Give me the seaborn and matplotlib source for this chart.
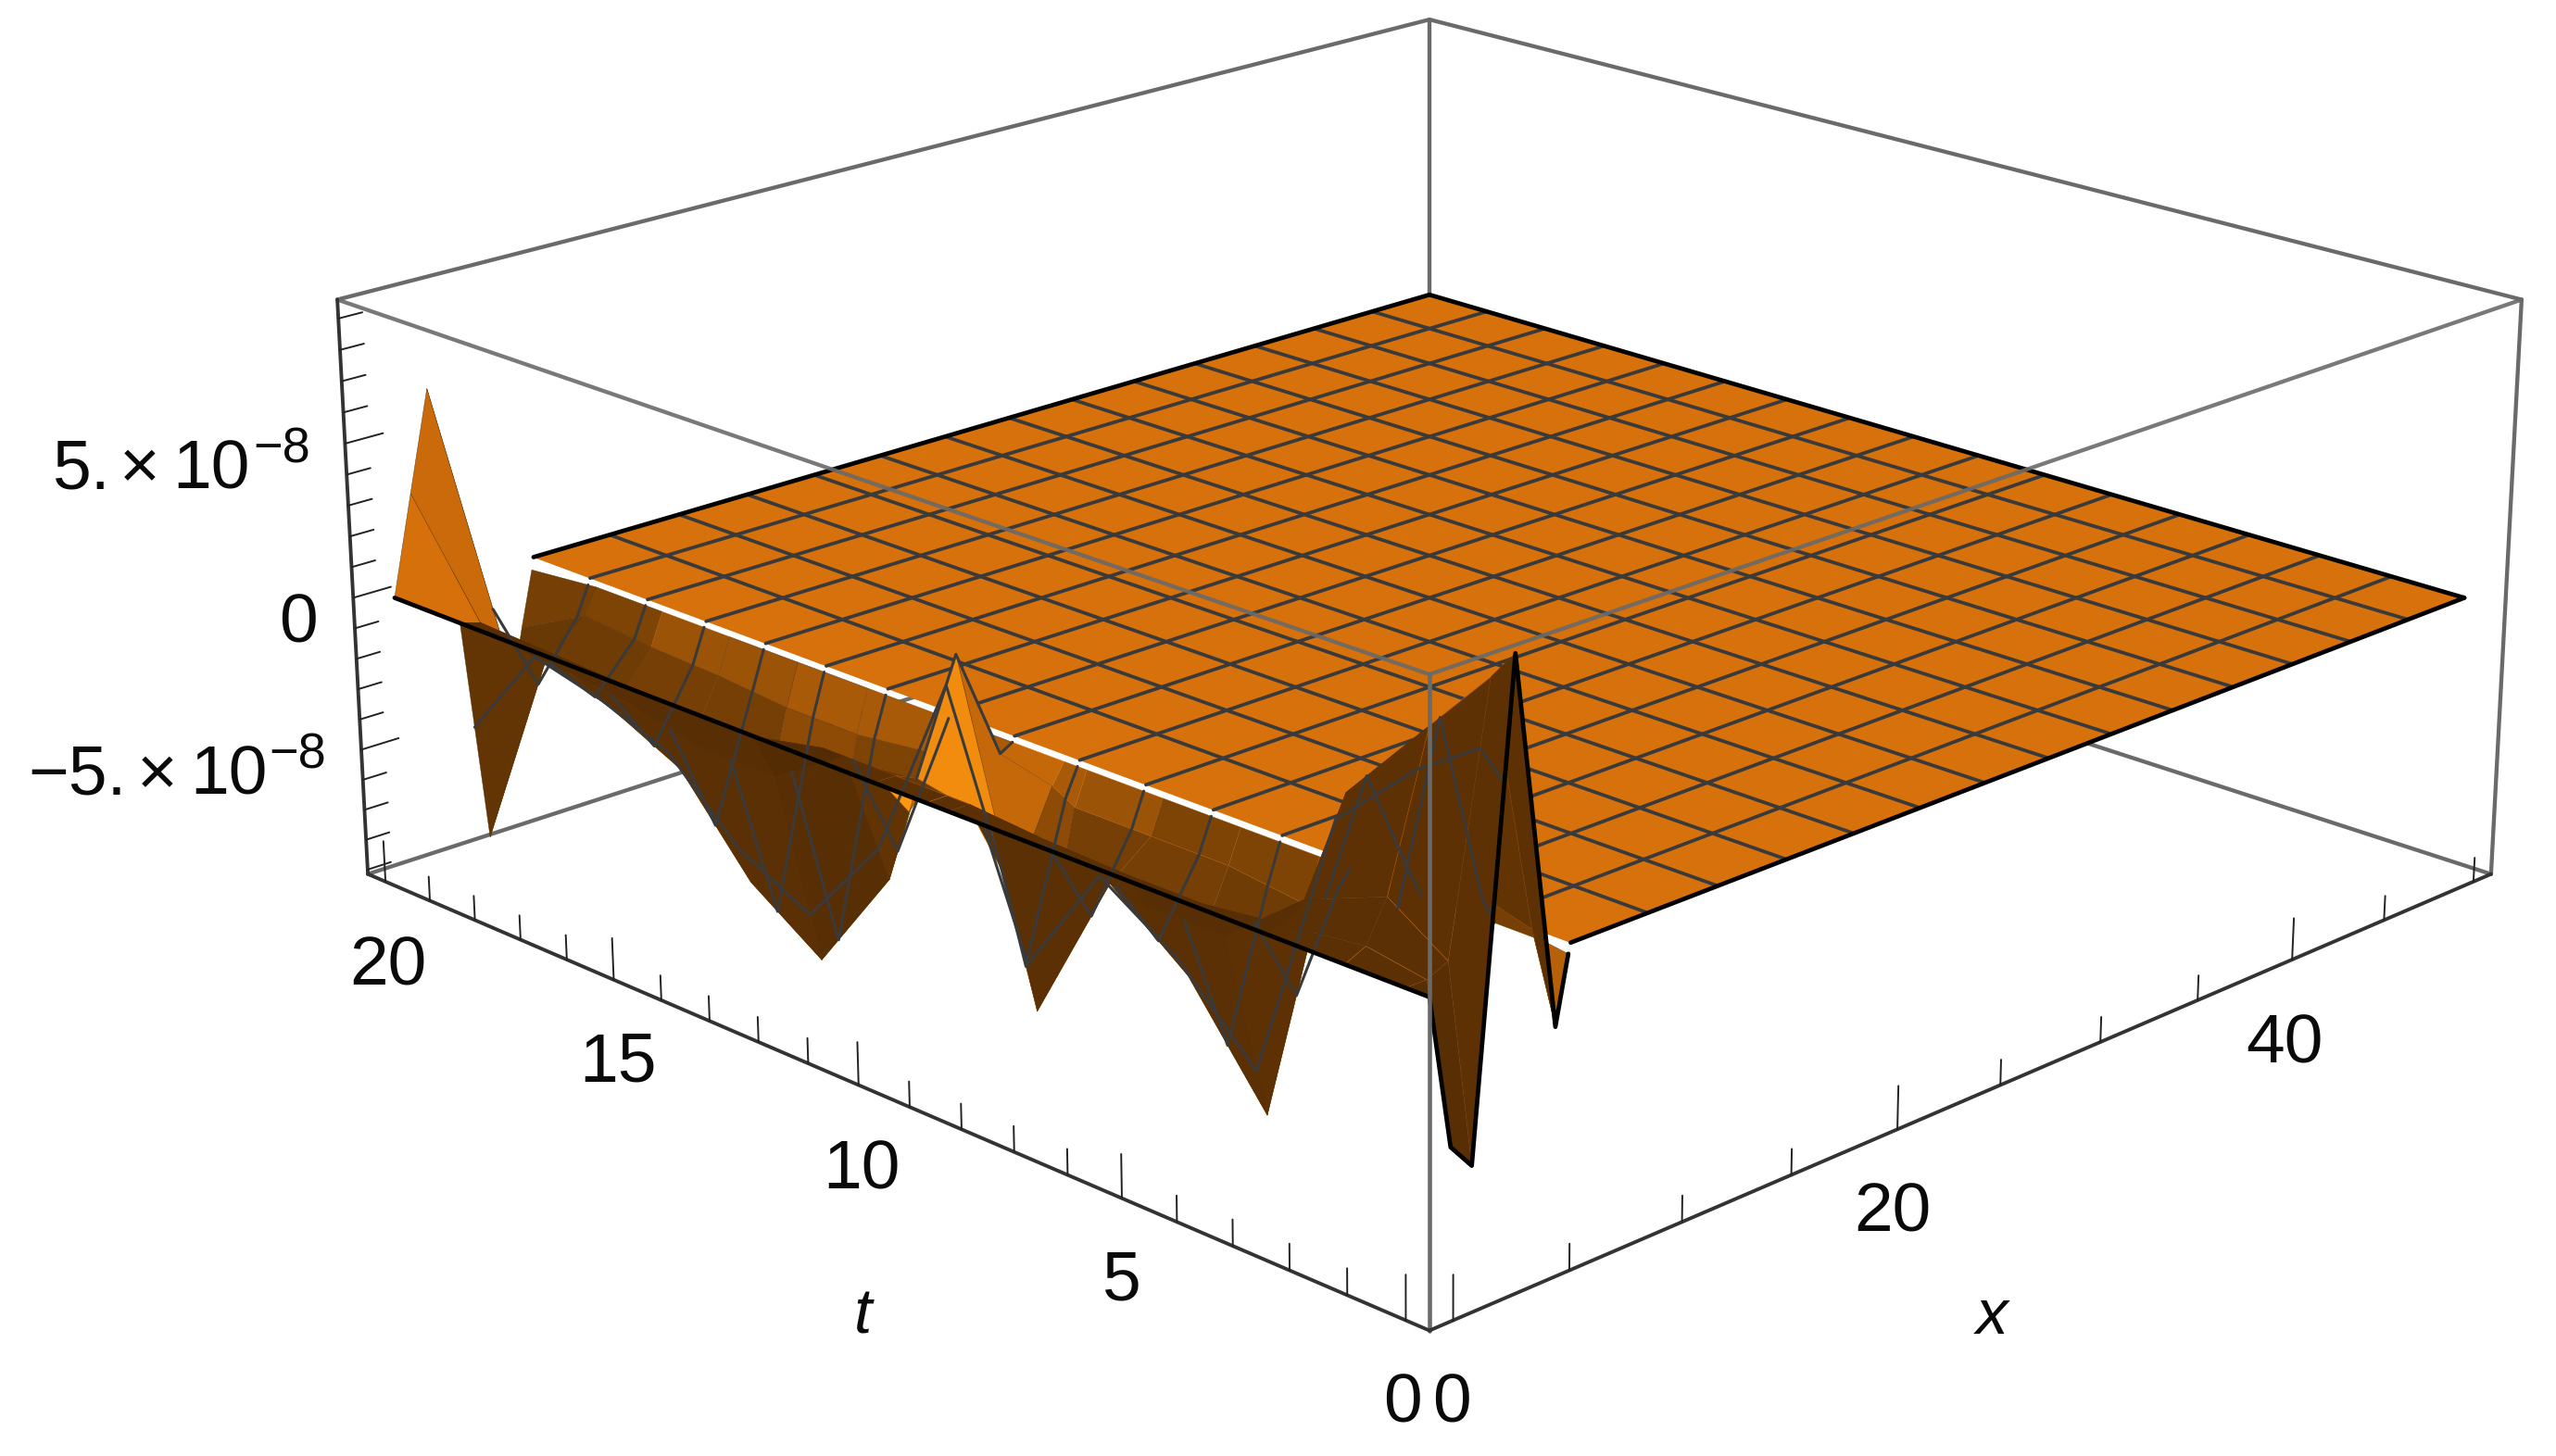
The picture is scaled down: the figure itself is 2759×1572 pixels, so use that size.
import numpy as np
import matplotlib
matplotlib.use("Agg")
import matplotlib.pyplot as plt
import seaborn as sns

# ---- data -------------------------------------------------------------
X_NODES = [0, 0.89, 1.79, 3.57, 5.36, 5.9]
T_NODES = [0, 0.4, 1.43, 2.86, 4.29, 5.71, 7.14, 8.57, 9.0, 10, 11.0, 11.43, 12.86, 14.29, 15.71, 17.14, 18.57, 20]
# surface height (units of 1e-8), rows = T_NODES, columns = X_NODES
Z_A = [0, -4.6, -5.4, 8.9, -2.3, -0.3]
Z_B = [0, 0.0, 0.3, 8.0, 0.3, -0.2]
Z_C = [0, 0.3, 1.5, 6.0, 0.8, -0.2]
Z_D = [0, 0.0, 0.5, 3.2, 0.6, -0.2]
Z_E = [0, -0.3, -1.5, -7.4, -1.5, -0.17]
Z_F = [0, -0.3, -1.5, -4.1, -1.2, -0.17]
Z_G = [0, -0.2, -0.8, -2.2, -1.2, -0.17]
Z_H = [0, 0.0, -1.0, -7.1, -1.2, -0.17]
Z_I = [0, 0.0, -0.6, -3.6, -0.8, -0.17]
Z_J = [0, 0.0, -0.3, 3.1, -0.4, -0.17]
Z_K = [0, 0.0, -0.5, -2.4, -0.8, -0.17]
Z_L = [0, 0.0, -0.5, -4.8, -1.2, -0.17]
Z_M = [0, -0.5, -2.0, -8.3, -1.5, -0.17]
Z_N = [0, -0.5, -2.0, -6.7, -1.5, -0.17]
Z_O = [0, -0.4, -1.5, -3.9, -1.3, -0.17]
Z_P = [0, -0.3, -1.2, -2.8, -1.2, -0.17]
Z_Q = [0, -0.2, -1.0, -2.1, -1.0, -0.17]
Z_R = [0, 3.2, 6.4, -8.8, -2.2, -0.4]
# brightness of each facet (0 dark brown ... 1 bright orange), one row per t interval
SHADE = [
    [.08, .08, .12, .12, .55],
    [.10, .10, .12, .15, .30],
    [.10, .10, .12, .15, .30],
    [.08, .08, .12, .20, .30],
    [.08, .08, .10, .25, .35],
    [.10, .10, .10, .30, .35],
    [.10, .10, .10, .30, .45],
    [.10, .10, .12, .40, .50],
    [.10, .20, .88, .60, .60],
    [.10, .20, .97, .60, .50],
    [.05, .10, .15, .40, .50],
    [.05, .05, .08, .35, .50],
    [.08, .08, .10, .40, .50],
    [.08, .08, .10, .30, .45],
    [.08, .08, .10, .30, .45],
    [.08, .08, .10, .25, .35],
    [.66, .62, .16, .20, .30],
]
PLATE_X = [6.0, 50]
PLATE_T = [0, 20]
MESH_X = [9.375, 12.5, 15.625, 18.75, 21.875, 25, 28.125, 31.25, 34.375, 37.5, 40.625, 43.75, 46.875]
MESH_T = [1.25, 2.5, 3.75, 5, 6.25, 7.5, 8.75, 10, 11.25, 12.5, 13.75, 15, 16.25, 17.5, 18.75]
STRIP_MESH_X = 3.125
XLIM = (-1, 51)
TLIM = (-0.4, 20.4)
ZLIM = (-9.15, 9.6)
X_TICKS = [0, 5, 10, 15, 20, 25, 30, 35, 40, 45, 50]
X_MAJOR = [0, 20, 40]
T_TICKS = list(range(0, 21))
T_MAJOR = [0, 5, 10, 15, 20]
Z_TICKS = list(range(-9, 10))
Z_MAJOR = [-5, 0, 5]

# ---- style ------------------------------------------------------------
W, H = 2759, 1572
sns.set_theme(style="white")
plt.rcParams["font.family"] = ["Liberation Sans", "DejaVu Sans"]
fig = plt.figure(figsize=(W / 100, H / 100), dpi=100, facecolor="white")
S = 2800.0
cx, cy = 1543.0, 934.0
frac = 0.095 / 0.185
ax = fig.add_axes([(cx - frac * S) / W, (cy - frac * S) / H, S / W, S / H],
                  projection="3d", computed_zorder=False)
f_len = 1423.0 / S
ax.set_proj_type("persp", focal_length=f_len)
ax.set_box_aspect((1, 1, 0.4), zoom=(10 * f_len / 4.68) / 1.2967)
ax.view_init(elev=19.4, azim=-135)
ax.set_xlim(*XLIM)
ax.set_ylim(*TLIM)
ax.set_zlim(*ZLIM)
ax.set_axis_off()
ax.patch.set_alpha(0)

cmap = sns.blend_palette(["#4E2804", "#7A4205", "#D7710B", "#FF9A10"], 256, as_cmap=True)
PLATE = "#D7710B"
MESH = "#3A3A3A"
BOX = "#6A6A6A"
AXC = "#333333"

def line(xs, ts, zs, color, lw, z, **kw):
    l, = ax.plot(xs, ts, zs, color=color, lw=lw, zorder=z, clip_on=False,
                 solid_capstyle="round", **kw)
    return l

x0, x1 = XLIM
t0, t1 = TLIM
z0, z1 = ZLIM

# back box edges (behind the surface)
line([x0, x1], [t1, t1], [z0, z0], BOX, 3.1, 1)
line([x1, x1], [t0, t1], [z0, z0], BOX, 3.1, 1)
line([x1, x1], [t1, t1], [z0, z1], BOX, 3.1, 1)
line([x0, x1], [t1, t1], [z1, z1], BOX, 3.1, 1)
line([x1, x1], [t0, t1], [z1, z1], BOX, 3.1, 1)
line([x1, x1], [t0, t0], [z0, z1], BOX, 3.1, 1)

# flat plate
Px, Pt = np.meshgrid(PLATE_X, PLATE_T)
plate = ax.plot_surface(Px, Pt, np.zeros_like(Px, dtype=float), color=PLATE, shade=False,
                        linewidth=0, antialiased=True, zorder=2)
plate.set_clip_on(False)
for mx in MESH_X:
    line([mx, mx], PLATE_T, [0, 0], MESH, 2.7, 3)
for mt in MESH_T:
    line(PLATE_X, [mt, mt], [0, 0], MESH, 2.7, 3)
line([PLATE_X[0], PLATE_X[1]], [20, 20], [0, 0], "black", 3.4, 3.5)
line([PLATE_X[1], PLATE_X[1]], [0, 20], [0, 0], "black", 3.4, 3.5)
line([PLATE_X[0], PLATE_X[1]], [0, 0], [0, 0], "black", 3.4, 3.5)

# rough strip near x = 0
Z_ROWS = [Z_A, Z_B, Z_C, Z_D, Z_E, Z_F, Z_G, Z_H, Z_I, Z_J, Z_K, Z_L, Z_M, Z_N, Z_O, Z_P, Z_Q, Z_R]
Z = np.array(Z_ROWS, dtype=float)
Xg, Tg = np.meshgrid(X_NODES, T_NODES)
strip = ax.plot_surface(Xg, Tg, Z, rstride=1, cstride=1, facecolors=cmap(np.array(SHADE)),
                        shade=False, linewidth=0.3, antialiased=True, zorder=4)
strip.set_edgecolor("face")
strip.set_clip_on(False)

# strip mesh lines
for mt in MESH_T:
    zs = [np.interp(mt, T_NODES, Z[:, j]) for j in range(2, len(X_NODES))]
    line(X_NODES[2:], [mt] * (len(X_NODES) - 2), zs, MESH, 2.2, 5)
z_mx = [np.interp(STRIP_MESH_X, X_NODES, Z[i, :]) for i in range(len(T_NODES))]
line([STRIP_MESH_X] * len(T_NODES), T_NODES, z_mx, MESH, 2.2, 5)

# strip outline
line(X_NODES, [0] * 6, Z[0], "black", 3.4, 6)
line([0, 0], [0, 20], [0, 0], "black", 3.4, 6)

# front box edges and ticks
line([x0, x1], [t0, t0], [z1, z1], BOX, 3.1, 7, alpha=0.9)
line([x0, x0], [t0, t1], [z1, z1], BOX, 3.1, 7, alpha=0.9)
line([x0, x0], [t0, t0], [z0, z1], BOX, 3.3, 7)
line([x0, x1], [t0, t0], [z0, z0], AXC, 2.8, 7)
line([x0, x0], [t0, t1], [z0, z0], AXC, 2.8, 7)
line([x0, x0], [t1, t1], [z0, z1], AXC, 2.8, 7)
for t in T_TICKS:
    ln = 1.35 if t in T_MAJOR else 0.8
    line([x0, x0], [t, t], [z0, z0 + ln], "#222222", 1.4, 7)
for x in X_TICKS:
    ln = 1.35 if x in X_MAJOR else 0.8
    line([x, x], [t0, t0], [z0, z0 + ln], "#222222", 1.4, 7)
for zt in Z_TICKS:
    ln = 1.6 if zt in Z_MAJOR else 1.0
    line([x0, x0 + ln], [t1, t1], [zt, zt], "#222222", 1.4, 7)

# text
FS = 54
def txt(px, py, s, ha="center", fs=FS, **kw):
    fig.text(px / W, 1 - py / H, s, ha=ha, va="baseline", fontsize=fs, color="#0A0A0A", **kw)

txt(57, 527, "5.", ha="left")
txt(151, 527, "×")
txt(186, 527, "10", ha="left")
txt(273, 499, "−8", ha="left", fs=39)
txt(322, 693, "0")
txt(30, 858, "−5.", ha="left")
txt(170, 858, "×")
txt(205, 858, "10", ha="left")
txt(290, 829, "−8", ha="left", fs=39)
txt(419, 1063, "20")
txt(667, 1168, "15")
txt(930, 1284, "10")
txt(1211, 1404, "5")
txt(1514, 1536, "0")
txt(1567, 1536, "0")
txt(2043, 1330, "20")
txt(2466, 1148, "40")
txt(931, 1440, "t", style="italic", fs=50)
txt(2150, 1440, "x", style="italic", fs=50)

fig.savefig("out.png", dpi=100, facecolor="white")
